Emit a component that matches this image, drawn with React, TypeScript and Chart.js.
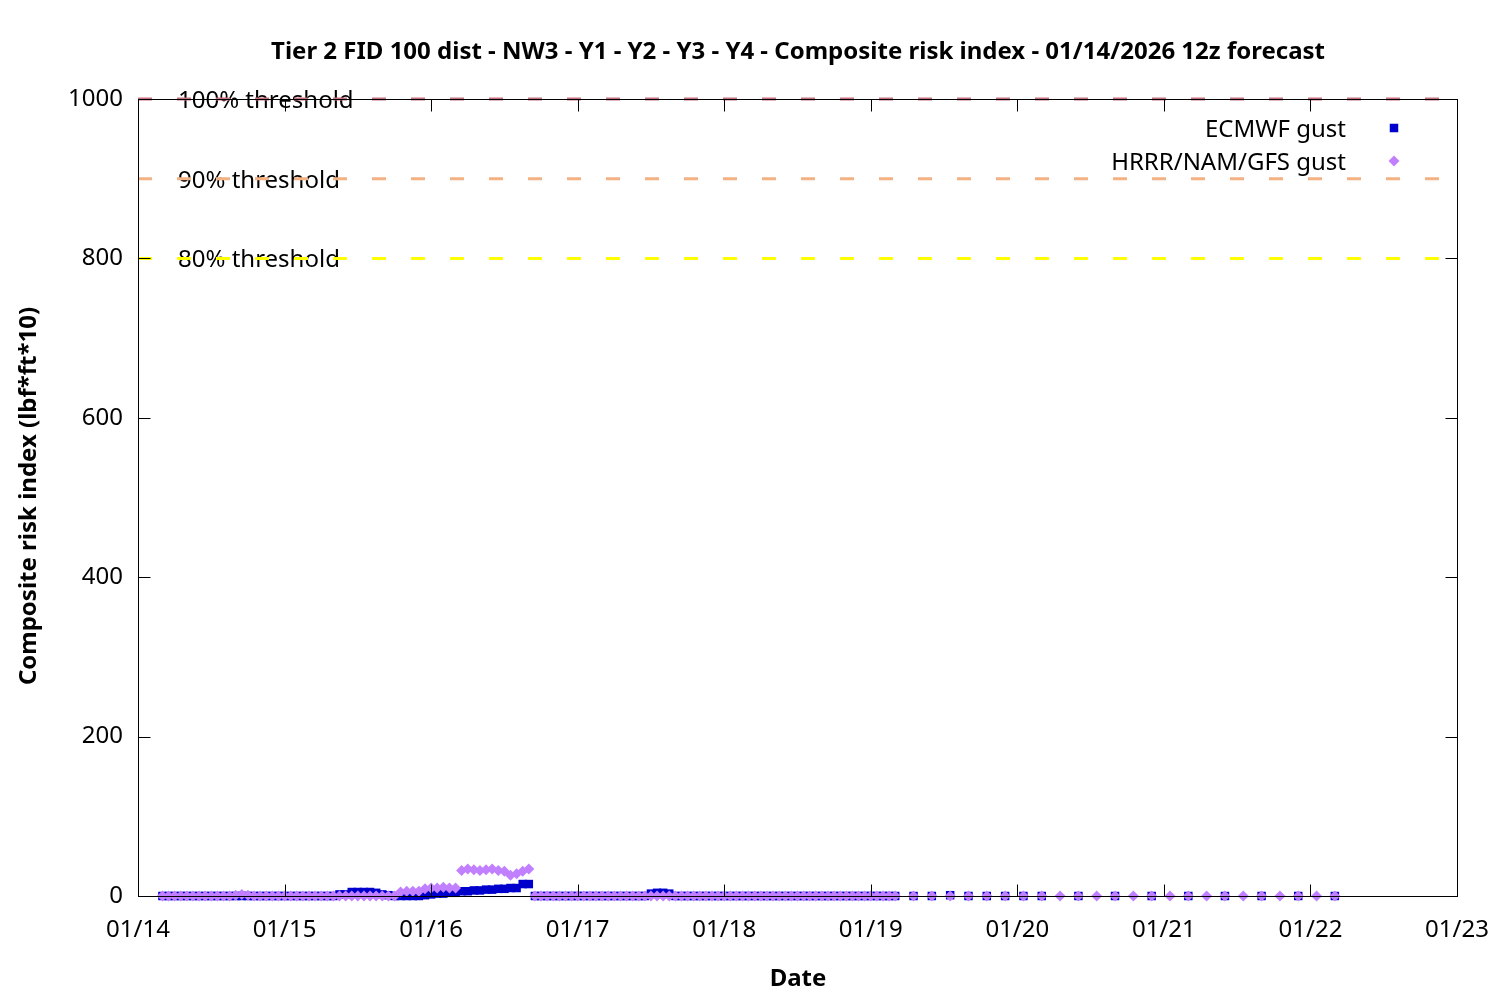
import React, { useEffect, useRef } from 'react';
import { Chart, registerables } from 'chart.js';

Chart.register(...registerables);

const TITLE = 'Tier 2 FID 100 dist - NW3 - Y1 - Y2 - Y3 - Y4 - Composite risk index - 01/14/2026 12z forecast';
const X_TITLE = 'Date';
const Y_TITLE = 'Composite risk index (lbf*ft*10)';
const DAY_LABELS = ['01/14', '01/15', '01/16', '01/17', '01/18', '01/19', '01/20', '01/21', '01/22', '01/23'];
const Y_MIN = 0;
const Y_MAX = 1000;
const Y_STEP = 200;

// Hours since 01/14 00:00 (local). Hourly block runs from hour 4 to hour 124.
const HOURLY_FIRST = 4;
const ECMWF_HOURLY = [
  0, 0, 0, 0, 0, 0, 0, 0, 0, 0, 0, 0, 0, 0, 0, 0, 0, 0, 0, 0, 0, 0, 0, 0, 0, 0, 0, 0, 0,
  2, 2,
  5, 5, 5, 5, 4,
  2, 1,
  0, 0, 0, 0, 0, 1,
  2, 3, 3, 4, 4,
  6, 6, 7, 7, 8, 8, 9, 9, 10, 10, 15, 15,
  0, 0, 0, 0, 0, 0, 0, 0, 0, 0, 0, 0, 0, 0, 0, 0, 0, 0, 0,
  3, 4, 4, 3,
  0, 0, 0, 0, 0, 0, 0, 0, 0, 0, 0, 0, 0, 0, 0, 0, 0, 0, 0, 0, 0, 0, 0, 0, 0, 0, 0, 0, 0, 0, 0, 0, 0, 0, 0, 0, 0,
];
const ECMWF_3H_HOURS = [127, 130, 133, 136, 139, 142, 145, 148];
const ECMWF_3H = [0, 0, 1, 0, 0, 0, 0, 0];
const ECMWF_6H_HOURS = [154, 160, 166, 172, 178, 184, 190, 196];
const ECMWF_6H = [0, 0, 0, 0, 0, 0, 0, 0];

const HRRR_HOURLY = [
  0, 0, 0, 0, 0, 0, 0, 0, 0, 0, 0, 0,
  1, 2, 1,
  0, 0, 0, 0, 0, 0, 0, 0, 0, 0, 0, 0, 0, 0, 0, 0, 0, 0, 0, 0, 0, 0, 0, 0,
  5, 6, 6, 6,
  9, 10, 10, 11, 10, 10,
  32, 34, 33, 32, 33, 34, 32, 31, 26, 28, 31, 34,
  0, 0, 0, 0, 0, 0, 0, 0, 0, 0, 0, 0, 0, 0, 0, 0, 0, 0, 0, 0, 0, 0, 0, 0, 0, 0, 0, 0, 0, 0,
  0, 0, 0, 0, 0, 0, 0, 0, 0, 0, 0, 0, 0, 0, 0, 0, 0, 0, 0, 0, 0, 0, 0, 0, 0, 0, 0, 0, 0, 0,
];
const HRRR_3H_HOURS = [
  127, 130, 133, 136, 139, 142, 145, 148, 151, 154, 157, 160,
  163, 166, 169, 172, 175, 178, 181, 184, 187, 190, 193, 196,
];
const HRRR_3H = [0, 0, 0, 0, 0, 0, 0, 0, 0, 0, 0, 0, 0, 0, 0, 0, 0, 0, 0, 0, 0, 0, 0, 0];

const SERIES_LABELS = ['ECMWF gust', 'HRRR/NAM/GFS gust'];
const SERIES_COLORS = ['#0000cc', '#c080ff'];

const THRESHOLD_LABELS = ['100% threshold', '90% threshold', '80% threshold'];
const THRESHOLD_VALUES = [1000, 900, 800];
const THRESHOLD_COLORS = ['#c8707e', '#f4b183', '#ffff00'];

const FONT = '"Noto Sans", "Open Sans", sans-serif';

function hourlyPoints(values: number[]) {
  return values.map((v, i) => ({ x: HOURLY_FIRST + i, y: v }));
}
function pairPoints(hours: number[], values: number[]) {
  return hours.map((h, i) => ({ x: h, y: values[i] }));
}

const decorPlugin = {
  id: 'decor',
  beforeDatasetsDraw(chart: any) {
    const { ctx, scales } = chart;
    const y = scales.y;
    ctx.save();
    ctx.fillStyle = '#000';
    ctx.font = `24px ${FONT}`;
    ctx.textAlign = 'left';
    ctx.textBaseline = 'alphabetic';
    THRESHOLD_LABELS.forEach((t, i) => {
      ctx.fillText(t, 178, y.getPixelForValue(THRESHOLD_VALUES[i]) + 9);
    });
    ctx.restore();
  },
  afterDatasetsDraw(chart: any) {
    const { ctx, chartArea, scales } = chart;
    const L = Math.round(chartArea.left) + 0.5;
    const R = Math.round(chartArea.right) + 0.5;
    const T = Math.round(chartArea.top) + 0.5;
    const B = Math.round(chartArea.bottom) + 0.5;
    ctx.save();
    ctx.strokeStyle = '#000';
    ctx.lineWidth = 1;
    ctx.strokeRect(L, T, R - L, B - T);
    const tl = 12;
    ctx.beginPath();
    scales.x.ticks.forEach((t: any) => {
      const px = Math.round(scales.x.getPixelForValue(t.value)) + 0.5;
      ctx.moveTo(px, B);
      ctx.lineTo(px, B - tl);
      ctx.moveTo(px, T);
      ctx.lineTo(px, T + tl);
    });
    scales.y.ticks.forEach((t: any) => {
      const py = Math.round(scales.y.getPixelForValue(t.value)) + 0.5;
      ctx.moveTo(L, py);
      ctx.lineTo(L + tl, py);
      ctx.moveTo(R, py);
      ctx.lineTo(R - tl, py);
    });
    ctx.stroke();
    ctx.restore();
  },
  afterDraw(chart: any) {
    const { ctx } = chart;
    ctx.save();
    ctx.fillStyle = '#000';
    ctx.textBaseline = 'middle';
    ctx.font = `bold 24px ${FONT}`;
    ctx.textAlign = 'center';
    ctx.fillText(TITLE, 798, 52);
    ctx.fillText(X_TITLE, 798, 979);
    ctx.save();
    ctx.translate(29, 496);
    ctx.rotate(-Math.PI / 2);
    ctx.fillText(Y_TITLE, 0, 0);
    ctx.restore();

    // legend
    ctx.font = `24px ${FONT}`;
    ctx.textAlign = 'right';
    const rows = [128, 161];
    SERIES_LABELS.forEach((lab, i) => {
      ctx.fillStyle = '#000';
      ctx.fillText(lab, 1346, rows[i] + 2);
      ctx.fillStyle = SERIES_COLORS[i];
      const cx = 1394;
      const cy = rows[i];
      if (i === 0) {
        ctx.fillRect(cx - 4.25, cy - 4.25, 8.5, 8.5);
      } else {
        ctx.beginPath();
        ctx.moveTo(cx, cy - 5.5);
        ctx.lineTo(cx + 5.5, cy);
        ctx.lineTo(cx, cy + 5.5);
        ctx.lineTo(cx - 5.5, cy);
        ctx.closePath();
        ctx.fill();
      }
    });
    ctx.restore();
  },
};

export default function App() {
  const canvasRef = useRef<HTMLCanvasElement | null>(null);

  useEffect(() => {
    const canvas = canvasRef.current;
    if (!canvas) return;

    const xMax = (DAY_LABELS.length - 1) * 24;
    const thresholdSets = THRESHOLD_VALUES.map((v, i) => ({
      type: 'line',
      label: THRESHOLD_LABELS[i],
      data: [
        { x: 0, y: v },
        { x: xMax, y: v },
      ],
      borderColor: THRESHOLD_COLORS[i],
      borderWidth: 3,
      borderDash: [14, 25],
      pointRadius: 0,
      showLine: true,
      fill: false,
      clip: false,
      order: 5 + i,
    }));

    const chart = new Chart(canvas, {
      type: 'scatter',
      data: {
        datasets: [
          {
            label: SERIES_LABELS[1],
            data: [...hourlyPoints(HRRR_HOURLY), ...pairPoints(HRRR_3H_HOURS, HRRR_3H)],
            pointStyle: 'rectRot',
            pointRadius: 5.5,
            pointBackgroundColor: SERIES_COLORS[1],
            pointBorderWidth: 0,
            borderWidth: 0,
            showLine: false,
            clip: false,
            order: 0,
          },
          {
            label: SERIES_LABELS[0],
            data: [
              ...hourlyPoints(ECMWF_HOURLY),
              ...pairPoints(ECMWF_3H_HOURS, ECMWF_3H),
              ...pairPoints(ECMWF_6H_HOURS, ECMWF_6H),
            ],
            pointStyle: 'rect',
            pointRadius: 6,
            pointBackgroundColor: SERIES_COLORS[0],
            pointBorderWidth: 0,
            borderWidth: 0,
            showLine: false,
            clip: false,
            order: 1,
          },
          ...(thresholdSets as any[]),
        ],
      },
      options: {
        animation: false,
        responsive: false,
        events: [],
        layout: { padding: { left: 0, right: 43, top: 99, bottom: 0 } },
        plugins: {
          legend: { display: false },
          tooltip: { enabled: false },
          title: { display: false },
        },
        scales: {
          x: {
            type: 'linear',
            min: 0,
            max: xMax,
            grid: { display: false, drawTicks: false },
            border: { display: false },
            ticks: {
              stepSize: 24,
              padding: 20,
              color: '#000',
              font: { family: FONT, size: 24 },
              maxRotation: 0,
              autoSkip: false,
              callback: (v: any) => DAY_LABELS[Math.round(Number(v) / 24)] ?? '',
            },
            afterFit: (s: any) => {
              s.height = 104;
              s.paddingLeft = 0;
              s.paddingRight = 0;
            },
          },
          y: {
            type: 'linear',
            min: Y_MIN,
            max: Y_MAX,
            grid: { display: false, drawTicks: false },
            border: { display: false },
            ticks: {
              stepSize: Y_STEP,
              padding: 15,
              color: '#000',
              font: { family: FONT, size: 24 },
              callback: (v: any) => String(v),
            },
            afterFit: (s: any) => {
              s.width = 138;
              s.paddingTop = 0;
              s.paddingBottom = 0;
            },
          },
        },
      },
      plugins: [decorPlugin],
    } as any);

    return () => chart.destroy();
  }, []);

  return (
    <div style={{ position: 'fixed', left: 0, top: 0, width: 1500, height: 1000, background: '#fff' }}>
      <canvas ref={canvasRef} width={1500} height={1000} style={{ width: 1500, height: 1000 }} />
    </div>
  );
}
